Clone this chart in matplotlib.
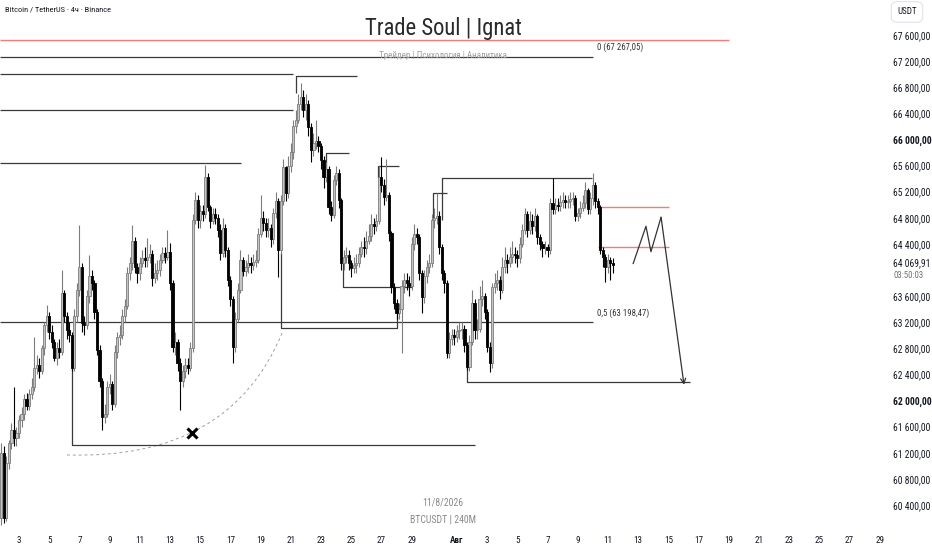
import numpy as np
import pandas as pd
import matplotlib
matplotlib.use("Agg")
import matplotlib.pyplot as plt
from matplotlib.path import Path
from matplotlib.patches import PathPatch

plt.rcParams['font.family'] = ['Roboto Condensed', 'Roboto', 'DejaVu Sans']

# ---- BTCUSDT 4h candles (open = previous close) ----
first_open = 60200
closes = [61200, 60200, 61050, 61350, 61550, 61420, 61500, 61700, 61800, 62030,
          61920, 62100, 62200, 62500, 62550, 62450, 62800, 63150, 63300, 63050,
          62900, 62650, 62800, 62750, 63650, 63300, 63080, 63000, 62500, 63300,
          63700, 64050, 63190, 63150, 63600, 63900, 63800, 63350, 62780, 62300,
          61750, 61800, 62200, 62250, 61950, 62750, 62970, 63000, 63300, 63450,
          63950, 64100, 64450, 64050, 63950, 64100, 64180, 64150, 64200, 64250,
          63870, 63950, 64000, 64150, 64260, 64200, 64280, 63800, 62820, 62900,
          62580, 62300, 62450, 62550, 62500, 62800, 64770, 65070, 64770, 64900,
          64850, 65420, 64960, 64750, 64850, 64800, 64610, 64260, 64650, 64300,
          63850, 63560, 62820, 63250, 63700, 64150, 63980, 64050, 64100, 64080,
          64120, 64150, 64550, 64800, 64720, 64620, 64650, 64480, 64870, 65050,
          64300, 65050, 65580, 65180, 65600, 65800, 66200, 66300, 66550, 66650,
          66450, 66550, 66190, 65840, 65950, 65980, 65900, 65690, 65430, 65550,
          64970, 64840, 65380, 65490, 65070, 64110, 64200, 64230, 64100, 64030,
          64080, 64100, 64250, 64350, 64330, 64450, 64520, 64700, 64680, 64750,
          65430, 65300, 65120, 65150, 64570, 63740, 63500, 63340, 63400, 63750,
          63850, 63800, 63750, 64400, 64550, 64500, 63950, 63580, 63900, 64050,
          64100, 64760, 64800, 64820, 64350, 63950, 63800, 62730, 62950, 63000,
          62980, 63060, 63080, 63100, 62850, 62510, 62900, 63500, 63080, 63100,
          63550, 63600, 63350, 62820, 62570, 63740, 63800, 63850, 63700, 64050,
          64150, 64100, 64200, 64250, 64230, 64180, 64400, 64620, 64850, 64610,
          64750, 64680, 64820, 64500, 64400, 64330, 64350, 64300, 65030, 64930,
          65000, 64980, 65040, 65070, 65040, 65060, 65080, 65100, 64820, 64870,
          64950, 65020, 65220, 64930, 65100, 65300, 65050, 64970, 64310, 64200,
          64050, 64150, 64110, 64069.91]
highs = [61350, 61300, 61150, 61400, 61650, 62200, 61600, 61780, 61900, 62100,
         62120, 62180, 62350, 62980, 62700, 62650, 62850, 63200, 63460, 63350,
         63150, 62950, 62900, 62950, 64000, 63700, 63350, 63200, 63050, 63400,
         63800, 64690, 64100, 63300, 63700, 64230, 64000, 63850, 63400, 62850,
         62350, 61950, 62300, 62400, 62300, 62850, 63050, 63150, 63400, 63550,
         64050, 64200, 64690, 64500, 64100, 64200, 64300, 64350, 64490, 64400,
         64300, 64100, 64150, 64250, 64350, 64350, 64610, 64420, 63850, 63050,
         62950, 62650, 62550, 62650, 62650, 62900, 64850, 65200, 65150, 65000,
         65000, 65610, 65480, 65000, 64950, 64950, 64850, 64700, 64800, 64700,
         64350, 63900, 63600, 63350, 63800, 64300, 64200, 64150, 64250, 64200,
         64250, 64300, 64650, 65150, 64900, 64800, 64800, 64700, 64950, 65200,
         65100, 65150, 65700, 65600, 65750, 65950, 66300, 66450, 66700, 66870,
         66750, 66700, 66600, 66250, 66100, 66300, 66050, 65950, 65750, 65650,
         65600, 65050, 65450, 65600, 65550, 65100, 64300, 64350, 64300, 64150,
         64200, 64250, 64350, 64450, 64500, 64600, 64700, 64850, 64800, 64850,
         65600, 65730, 65400, 65700, 65200, 64600, 63800, 63550, 63500, 63850,
         63950, 63950, 63900, 64500, 64700, 64650, 64550, 64000, 64000, 64150,
         64250, 64850, 64950, 65180, 64900, 64400, 64000, 63850, 63050, 63100,
         63100, 63150, 63200, 63200, 63150, 62900, 63000, 63700, 63550, 63250,
         63750, 63850, 63650, 63400, 62900, 63800, 63950, 64000, 63900, 64200,
         64350, 64250, 64350, 64450, 64350, 64300, 64500, 64700, 64950, 64900,
         64900, 64850, 64950, 64850, 64550, 64450, 64450, 64400, 65100, 65410,
         65100, 65100, 65150, 65200, 65150, 65150, 65200, 65200, 65150, 64950,
         65050, 65150, 65350, 65250, 65200, 65490, 65350, 65100, 65000, 64350,
         64250, 64250, 64200, 64180]
lows = [60100, 60120, 60150, 60950, 61250, 61300, 61300, 61420, 61600, 61700,
        61850, 61850, 62020, 62150, 62400, 62350, 62400, 62700, 63050, 62950,
        62800, 62600, 62550, 62650, 62700, 63200, 62950, 62900, 62450, 62450,
        63200, 63600, 63050, 63000, 63100, 63500, 63700, 63250, 62700, 62200,
        61550, 61650, 61750, 62100, 61850, 61900, 62650, 62850, 62950, 63200,
        63400, 63850, 64000, 63950, 63800, 63850, 64050, 64050, 64050, 64100,
        63750, 63800, 63850, 63900, 64100, 64100, 64150, 63700, 62750, 62700,
        62450, 61850, 62200, 62350, 62400, 62450, 62750, 64700, 64650, 64650,
        64750, 64800, 64900, 64650, 64700, 64700, 64500, 64150, 64200, 64200,
        63750, 63450, 62570, 62750, 63200, 63650, 63900, 63900, 63950, 63950,
        64000, 64050, 64100, 64500, 64600, 64500, 64500, 64350, 64400, 64800,
        63890, 64250, 65000, 65050, 65100, 65500, 65700, 66100, 66250, 66450,
        66350, 66300, 66050, 65650, 65750, 65850, 65800, 65550, 65250, 65350,
        64850, 64750, 64800, 65300, 64950, 64000, 64000, 64100, 64000, 63890,
        63950, 63950, 64050, 64200, 64200, 64250, 64400, 64450, 64550, 64600,
        64700, 65200, 65000, 65050, 64450, 63650, 63400, 63250, 63250, 62730,
        63650, 63700, 63600, 63700, 64300, 64400, 63850, 63340, 63500, 63800,
        63950, 64050, 64650, 64700, 64250, 63850, 63650, 62650, 62650, 62850,
        62850, 62900, 62950, 62950, 62750, 62470, 62450, 62850, 62950, 62950,
        63050, 63450, 63250, 62750, 62440, 62500, 63650, 63700, 63550, 63650,
        63950, 63950, 64050, 64100, 64100, 64050, 64100, 64350, 64550, 64500,
        64550, 64550, 64600, 64400, 64300, 64200, 64250, 64200, 64250, 64850,
        64850, 64900, 64900, 64950, 64950, 64950, 64950, 65000, 64750, 64750,
        64800, 64900, 64950, 64850, 64850, 65000, 64950, 64850, 64250, 64050,
        63820, 63950, 63850, 63950]

# ---- levels drawn on the chart (day-of-July, price) ----
fib_0 = 67267.05
fib_05 = 63198.47
red_top = 67520
red_zone = [64965, 64352]
price_ticks = list(range(60400, 67601, 400))
day_ticks = [3, 5, 7, 9, 11, 13, 15, 17, 19, 21, 23, 25, 27, 29, 32,
             34, 36, 38, 40, 42, 44, 46, 48, 50, 52, 54, 56, 58, 60]
day_labels = ['3', '5', '7', '9', '11', '13', '15', '17', '19', '21', '23', '25',
              '27', '29', 'Авг', '3', '5', '7', '9', '11', '13', '15', '17', '19',
              '21', '23', '25', '27', '29']

times = pd.date_range("2026-07-01 20:00", periods=len(closes), freq="4h")
x = np.asarray((times - pd.Timestamp("2026-07-01")) / pd.Timedelta(days=1)) + 1
c = np.array(closes, dtype=float)
o = np.array([first_open] + closes[:-1], dtype=float)
h = np.array(highs, dtype=float)
l = np.array(lows, dtype=float)

W, H = 932, 550
fig = plt.figure(figsize=(W / 100, H / 100), dpi=100)
ax = fig.add_axes([0, 22 / H, 885 / W, 528 / H])
ax.set_xlim(1.742, 60.35)
ax.set_ylim(60047, 68136)

# candles: hollow-looking grey up candles, solid black down candles
up = c >= o
dn = ~up
bw = 0.14
ax.vlines(x[up], l[up], h[up], color='#7d7d7d', lw=0.8, zorder=3)
ax.bar(x[up], np.maximum(c[up] - o[up], 10), bottom=o[up], width=bw,
       color='#c4c4c4', edgecolor='#7d7d7d', lw=0.6, zorder=4)
ax.vlines(x[dn], l[dn], h[dn], color='black', lw=0.8, zorder=3)
ax.bar(x[dn], np.maximum(o[dn] - c[dn], 10), bottom=c[dn], width=bw,
       color='black', edgecolor='black', lw=0.6, zorder=4)

lc = '#3a3a3a'
def seg(xs, ys, color=lc, lw=0.9):
    ax.plot(xs, ys, color=color, lw=lw, solid_capstyle='butt', zorder=2)

# red levels
seg([1.74, 50.02], [red_top, red_top], color='#f07c7c', lw=1.0)
for p in red_zone:
    seg([41.34, 46.05], [p, p], color='#f07c7c', lw=1.0)

# fib levels
seg([1.74, 41.0], [fib_0, fib_0])
seg([1.74, 41.0], [fib_05, fib_05])
ax.text(41.3, fib_0 + 70, "0 (67 267,05)", fontsize=6.3, color='#333333', va='bottom')
ax.text(41.3, fib_05 + 70, "0,5 (63 198,47)", fontsize=6.3, color='#333333', va='bottom')

# swing-high / swing-low lines
seg([1.74, 21.15], [67000, 67000])
seg([21.34, 21.34, 25.38], [66711, 66972, 66972])
seg([1.74, 21.15], [66450, 66450])
seg([1.74, 17.70], [65640, 65640])
seg([23.33, 23.33, 24.85], [65530, 65790, 65790])
seg([26.77, 26.77, 28.17], [65410, 65590, 65590])
seg([30.42, 30.42, 31.34], [64800, 65180, 65180])
seg([31.01, 31.01, 40.95], [64770, 65410, 65410])
seg([24.46, 24.46, 29.03], [64110, 63740, 63740])
seg([20.35, 20.35, 28.03, 28.03], [64260, 63110, 63110, 63340])
seg([6.51, 6.51, 33.20], [62510, 61320, 61320])
seg([32.67, 32.67, 47.44], [62820, 62280, 62280])

# projected path
seg([43.66, 44.52, 44.85, 45.52], [64090, 64670, 64280, 64810], color='#333333', lw=0.9)
ax.annotate('', xy=(47.04, 62240), xytext=(45.52, 64810),
            arrowprops=dict(arrowstyle='->', color='#333333', lw=0.9,
                            mutation_scale=9, shrinkA=0, shrinkB=0))

# dashed arc + cross
arc = Path([(6.18, 61166), (16.97, 61089), (20.42, 63035)],
           [Path.MOVETO, Path.CURVE3, Path.CURVE3])
ax.add_patch(PathPatch(arc, fill=False, ls=(0, (3, 3)), lw=0.7, color='#a0a0a0'))
ax.plot(14.46, 61503, marker='x', ms=7, mew=2.2, color='black', zorder=6)

# axes styling
for s in ax.spines.values():
    s.set_visible(False)
ax.yaxis.tick_right()
shown = [p for p in price_ticks if p != 64000]
ax.set_yticks(shown)
ax.set_yticklabels([f"{p:,.2f}".replace(',', ' ').replace('.', ',') for p in shown])
ax.set_xticks(day_ticks)
ax.set_xticklabels(day_labels)
ax.tick_params(length=0, labelsize=6.6, colors='#131722')
ax.tick_params(axis='y', pad=6, labelsize=6.9)
ax.tick_params(axis='x', pad=6)
for t in ax.get_yticklabels():
    if t.get_text() in ('66 000,00', '62 000,00'):
        t.set_fontweight('bold')
for t in ax.get_xticklabels():
    if t.get_text() == 'Авг':
        t.set_fontweight('bold')

# last price label
yt = ax.get_yaxis_transform()
ax.text(1 + 8 / 885, closes[-1] + 40, "64 069,91", transform=yt, fontsize=6.9,
        color='#131722', va='center', ha='left')
ax.text(1 + 8 / 885, closes[-1] - 150, "03:50:03", transform=yt, fontsize=6.3,
        color='#707070', va='center', ha='left')
fig.text(907 / W, 1 - 12 / H, "USDT", fontsize=6.5, color='#131722', ha='center',
         va='center', bbox=dict(boxstyle='round,pad=0.65', fc='white', ec='#e0e3eb', lw=0.8))

# titles / watermark texts
fig.text(5 / W, 1 - 10 / H, "Bitcoin / TetherUS · 4ч · Binance", fontsize=6,
         color='#131722', va='center', ha='left')
fig.text(443 / W, 1 - 28 / H, "Trade Soul | Ignat", fontsize=16.3, color='#2a2a2a',
         va='center', ha='center')
fig.text(443 / W, 1 - 55 / H, "Трейдер | Психология | Аналитика", fontsize=6.5,
         color='#a0a0a0', va='center', ha='center')
fig.text(443 / W, 1 - 502 / H, "11/8/2026", fontsize=7, color='#8a8a8a',
         va='center', ha='center')
fig.text(443 / W, 1 - 520 / H, "BTCUSDT | 240M", fontsize=7, color='#8a8a8a',
         va='center', ha='center')

fig.savefig("out.png", dpi=100, facecolor='white')
